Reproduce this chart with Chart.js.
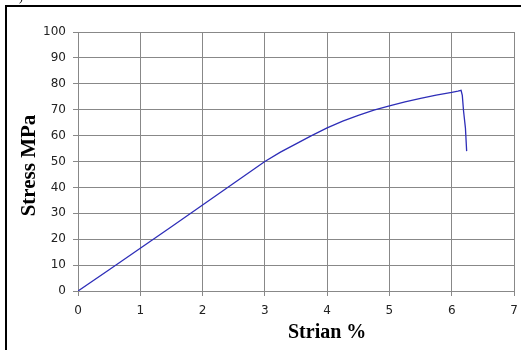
<!DOCTYPE html>
<html>
<head>
<meta charset="utf-8">
<script src="https://cdn.jsdelivr.net/npm/chart.js@4"></script>
<style>
  html, body { margin: 0; padding: 0; background: #fff; overflow: hidden; }
  #wrap { width: 521px; height: 350px; }
</style>
</head>
<body>
<div id="wrap"><canvas id="stress_chart" width="521" height="350"></canvas></div>
<script>
// strain (%) and stress (MPa)
const strain = [0, 0.5, 1, 1.5, 2, 2.5, 3, 3.25, 3.5, 3.75, 4, 4.25, 4.5, 4.75, 5, 5.25, 5.5, 5.75, 6, 6.1, 6.15, 6.17, 6.19, 6.22, 6.24];
const stress = [0, 8.2, 16.5, 24.8, 33.2, 41.6, 50, 53.6, 56.8, 60, 63, 65.6, 67.8, 69.8, 71.5, 73, 74.4, 75.6, 76.7, 77.2, 77.5, 75.5, 69.5, 63, 54];
const xTitle = 'Strian %';
const yTitle = 'Stress MPa';

Chart.defaults.font.family = '"DejaVu Sans", Verdana, sans-serif';
Chart.defaults.font.size = 12;
Chart.defaults.color = '#222';
Chart.defaults.plugins.legend.display = false;
Chart.defaults.plugins.tooltip.enabled = false;

const points = strain.map((x, i) => ({ x: x, y: stress[i] }));

// page frame and axis titles
const decorations = {
  id: 'decorations',
  beforeDraw(chart) {
    const ctx = chart.ctx;
    ctx.save();
    ctx.fillStyle = '#fff';
    ctx.fillRect(0, 0, chart.width, chart.height);
    ctx.restore();
  },
  afterDraw(chart) {
    const ctx = chart.ctx;
    const xs = chart.scales.x, ys = chart.scales.y;
    ctx.save();
    ctx.fillStyle = '#000';
    ctx.fillRect(5, 5, chart.width - 5, 2);
    ctx.fillRect(5, 5, 2, chart.height - 5);
    ctx.font = '12px "Liberation Serif", serif';
    ctx.textBaseline = 'alphabetic';
    ctx.fillText(')', 19, 1);

    ctx.font = 'bold 20px "Liberation Serif", serif';
    ctx.textAlign = 'center';
    ctx.textBaseline = 'middle';
    ctx.fillText(xTitle, xs.getPixelForValue(4), 333);
    ctx.translate(30, (ys.top + ys.bottom) / 2 + 4);
    ctx.rotate(-Math.PI / 2);
    ctx.font = 'bold 21px "Liberation Serif", serif';
    ctx.fillText(yTitle, 0, 0);
    ctx.restore();
  }
};

new Chart(document.getElementById('stress_chart'), {
  type: 'scatter',
  data: {
    datasets: [{
      data: points,
      showLine: true,
      borderColor: '#2e2eb8',
      borderWidth: 1.3,
      pointRadius: 0,
      tension: 0
    }]
  },
  options: {
    responsive: false,
    animation: false,
    layout: { padding: { top: 32, right: 7, left: 0, bottom: 0 } },
    scales: {
      x: {
        type: 'linear',
        min: 0, max: 7,
        afterFit(scale) {
          scale.height = 59;
          scale.paddingLeft = 0;
          scale.paddingRight = 0;
        },
        ticks: { stepSize: 1, padding: 8, color: '#222' },
        grid: { color: '#888', lineWidth: 1, tickLength: 5 },
        border: { color: '#888' }
      },
      y: {
        min: 0, max: 100,
        afterFit(scale) {
          scale.width = 78;
          scale.paddingTop = 0;
          scale.paddingBottom = 0;
        },
        ticks: { stepSize: 10, padding: 7, color: '#222' },
        grid: { color: '#888', lineWidth: 1, tickLength: 5 },
        border: { color: '#888' }
      }
    }
  },
  plugins: [decorations]
});
</script>
</body>
</html>
